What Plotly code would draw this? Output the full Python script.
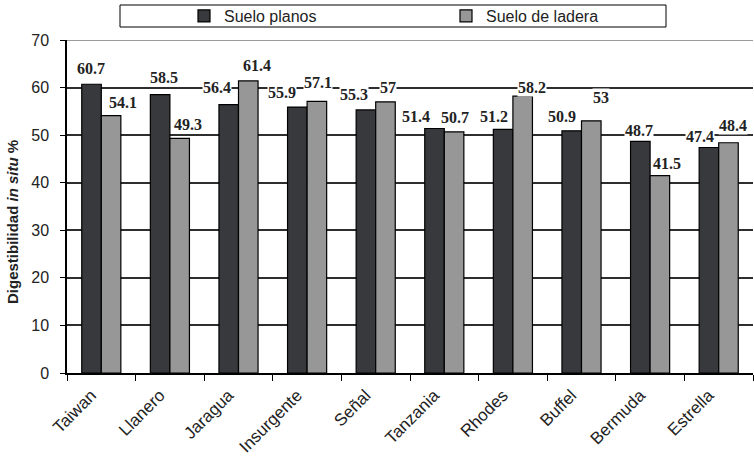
import plotly.graph_objects as go

# Digestibility of grasses grown on flat vs. hillside soils
variedades = ["Taiwan", "Llanero", "Jaragua", "Insurgente", "Señal",
              "Tanzania", "Rhodes", "Buffel", "Bermuda", "Estrella"]
suelo_planos = [60.7, 58.5, 56.4, 55.9, 55.3, 51.4, 51.2, 50.9, 48.7, 47.4]
suelo_ladera = [54.1, 49.3, 61.4, 57.1, 57.0, 50.7, 58.2, 53.0, 41.5, 48.4]
y_ticks = [0, 10, 20, 30, 40, 50, 60, 70]

# label nudges (px) relative to the top centre of each bar
dx_planos = [0, 4, -12, -15, -12, -18, -9, -10, -1, -9]
dy_planos = [16, 17, 17, 15, 15, 12, 13, 14, 11, 11]
dx_ladera = [12, 8, 8, 1, 2, 1, 9, 9, 7, 4]
dy_ladera = [13, 14, 15, 19, 14, 14, 9, 23, 12, 17]

W, H = 754, 457
ML, MR, MT, MB = 67, 1, 40, 84
PW, PH = W - ML - MR, H - MT - MB

def px_x(p):
    return (p - ML) / PW

def px_y(p):
    return (H - MB - p) / PH

COL_DARK = "#37393c"
COL_LIGHT = "#979797"
TXT = "#222222"

fig = go.Figure()
fig.add_trace(go.Bar(
    name="Suelo planos", x=variedades, y=suelo_planos,
    marker=dict(color=COL_DARK, line=dict(color="#000000", width=1.2)),
))
fig.add_trace(go.Bar(
    name="Suelo de ladera", x=variedades, y=suelo_ladera,
    marker=dict(color=COL_LIGHT, line=dict(color="#000000", width=1.2)),
))

label_font = dict(family="Liberation Serif", size=16, color=TXT)
for i, cat in enumerate(variedades):
    for val, off, dx, dy in ((suelo_planos[i], -10, dx_planos[i], dy_planos[i]),
                             (suelo_ladera[i], 10, dx_ladera[i], dy_ladera[i])):
        fig.add_annotation(
            x=cat, y=val, xref="x", yref="y",
            text="<b>%g</b>" % val, showarrow=False,
            xshift=off + dx, yshift=dy, yanchor="middle",
            font=label_font, bgcolor="#ffffff", borderpad=0,
        )

# rotated value-axis title
fig.add_annotation(
    xref="paper", yref="paper", x=px_x(12), y=px_y(222),
    xanchor="center", yanchor="middle", textangle=-90, showarrow=False,
    text="<b>Digestibilidad <i>in situ</i> %</b>",
    font=dict(family="Arial", size=15, color=TXT),
)

# legend frame
fig.add_shape(type="rect", xref="paper", yref="paper",
              x0=px_x(120), x1=px_x(666), y0=px_y(27), y1=px_y(5),
              line=dict(color="#000000", width=1), fillcolor="#ffffff",
              layer="above")
# top border line at 70
fig.add_shape(type="line", xref="paper", yref="y", x0=0, x1=1, y0=70, y1=70,
              line=dict(color="#9a9a9a", width=2), layer="above")

fig.update_layout(
    width=W, height=H,
    margin=dict(l=ML, r=MR, t=MT, b=MB, pad=0, autoexpand=False),
    paper_bgcolor="#ffffff", plot_bgcolor="#ffffff",
    barmode="group", bargap=0.43, bargroupgap=0,
    font=dict(family="Arial", color=TXT),
    showlegend=True,
    legend=dict(
        orientation="h", x=px_x(184), y=px_y(16), xanchor="left",
        yanchor="middle", bgcolor="rgba(0,0,0,0)", borderwidth=0,
        font=dict(family="Arial", size=16, color=TXT),
        entrywidth=217, entrywidthmode="pixels",
    ),
    xaxis=dict(
        type="category", tickson="boundaries", ticks="outside", ticklen=6,
        tickcolor="#000000", showline=True, linecolor="#000000", linewidth=1.5,
        tickangle=-45, tickfont=dict(family="Arial", size=17, color=TXT),
        ticklabelshift=-10, ticklabelstandoff=4,
        showgrid=False,
    ),
    yaxis=dict(
        range=[0, 70], tickvals=y_ticks, ticks="outside", ticklen=5,
        tickcolor="#000000", showline=True, linecolor="#000000", linewidth=1.5,
        showgrid=True, gridcolor="#2e2e2e", gridwidth=1.8, zeroline=False,
        tickfont=dict(family="Arial", size=16, color=TXT),
        ticklabelstandoff=8,
    ),
)

fig.write_html("out.html")
